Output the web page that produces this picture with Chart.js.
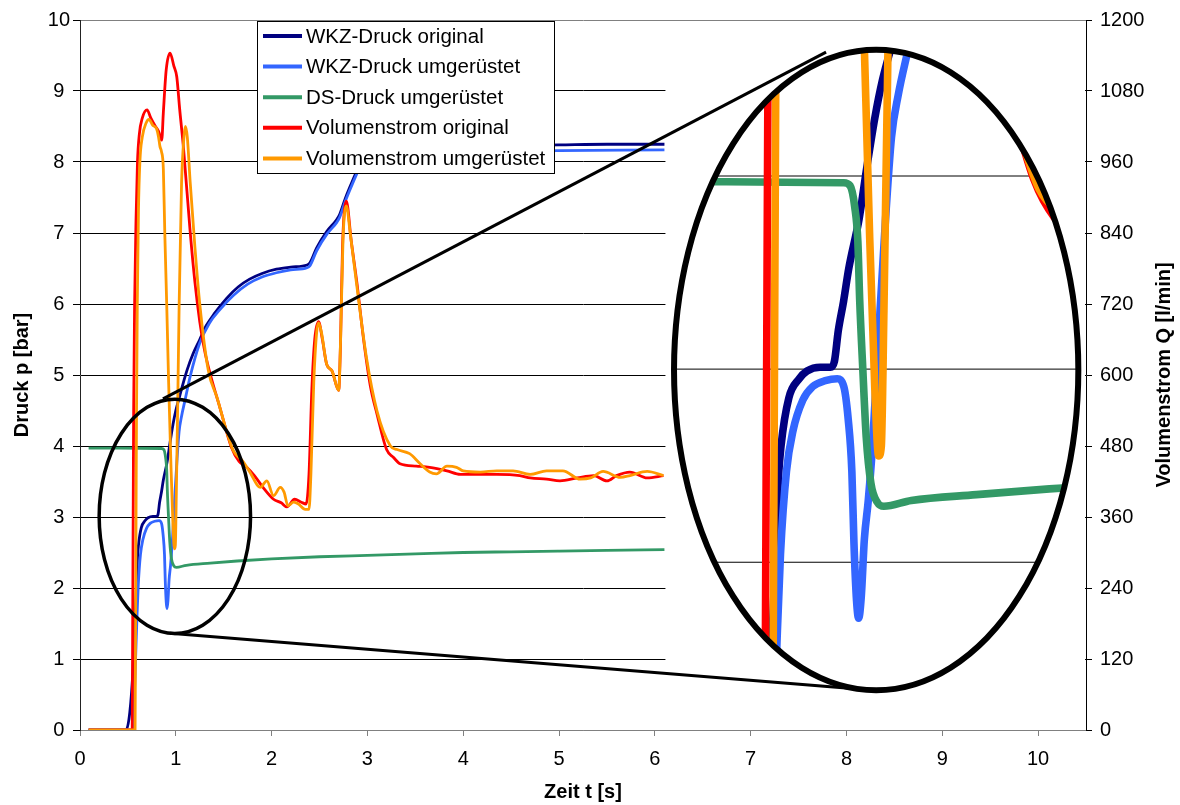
<!DOCTYPE html>
<html>
<head>
<meta charset="utf-8">
<script src="https://cdn.jsdelivr.net/npm/chart.js@4.4.1/dist/chart.umd.min.js"></script>
<style>
  html, body { margin: 0; padding: 0; background: #fff; }
  canvas { display: block; }
</style>
</head>
<body>
<canvas id="c" width="1180" height="805"></canvas>
<script>
// series names / colours (legend order)
const seriesNames = ["WKZ-Druck original", "WKZ-Druck umgerüstet", "DS-Druck umgerüstet", "Volumenstrom original", "Volumenstrom umgerüstet"];
const seriesColors = ["#000080", "#3366ff", "#339966", "#ff0000", "#ff9900"];

// time [s] and pressure [bar]
const navyT = [0.09,0.48,0.52,0.555,0.575,0.59,0.60,0.61,0.64,0.68,0.71,0.76,0.80,0.815,0.83,0.85,0.87,0.91,0.94,0.97,1.0,1.04,1.08,1.12,1.18,1.25,1.32,1.4,1.53,1.65,1.77,1.9,2.05,2.2,2.37,2.4,2.47,2.575,2.68,2.71,2.77,2.84,2.92,3.0,3.1,3.3,3.6,4.0,4.5,5.0,5.5,6.1];
const navyP = [0,0,0.25,0.9,1.6,2.05,2.43,2.6,2.85,2.95,2.99,3.01,3.01,3.04,3.2,3.35,3.52,3.78,4.05,4.3,4.5,4.7,4.9,5.08,5.3,5.5,5.7,5.86,6.08,6.24,6.35,6.43,6.49,6.52,6.55,6.58,6.79,7.02,7.19,7.26,7.49,7.72,7.96,8.1,8.16,8.2,8.21,8.22,8.23,8.24,8.25,8.25];

const blueT = [0.09,0.55,0.565,0.58,0.595,0.608,0.631,0.656,0.694,0.732,0.78,0.826,0.851,0.868,0.882,0.89,0.90,0.908,0.918,0.93,0.945,0.962,0.99,1.01,1.034,1.06,1.097,1.15,1.25,1.35,1.46,1.6,1.75,1.9,2.05,2.2,2.37,2.4,2.47,2.575,2.68,2.71,2.77,2.84,2.92,3.0,3.1,3.3,3.6,4.0,5.0,6.1];
const blueP = [0,0,0.4,1.0,1.6,2.04,2.47,2.68,2.84,2.91,2.94,2.95,2.91,2.74,2.47,2.1,1.8,1.71,1.82,2.12,2.32,2.62,3.3,3.75,4.2,4.42,4.65,4.98,5.45,5.73,5.92,6.12,6.28,6.38,6.44,6.48,6.51,6.54,6.75,6.98,7.15,7.22,7.45,7.68,7.92,8.05,8.1,8.13,8.14,8.15,8.16,8.17];

const greenT = [0.09,0.40,0.85,0.875,0.893,0.905,0.912,0.924,0.937,0.955,0.98,1.005,1.11,1.36,1.64,2.0,2.5,3.0,3.5,4.0,4.5,5.0,5.5,6.1];
const greenP = [3.97,3.97,3.965,3.95,3.84,3.66,3.36,3.0,2.65,2.41,2.31,2.29,2.32,2.35,2.38,2.41,2.44,2.46,2.48,2.50,2.51,2.52,2.53,2.54];

// time [s] and flow [l/min]
const redT = [0.09,0.545,0.55,0.555,0.56,0.57,0.585,0.60,0.62,0.65,0.70,0.74,0.78,0.82,0.853,0.87,0.90,0.94,0.98,1.01,1.04,1.08,1.15,1.20,1.25,1.30,1.36,1.46,1.58,1.66,1.74,1.82,1.91,2.02,2.10,2.16,2.24,2.31,2.36,2.39,2.42,2.45,2.49,2.53,2.575,2.63,2.70,2.72,2.74,2.78,2.83,2.89,2.96,3.03,3.10,3.20,3.27,3.34,3.51,3.65,3.83,3.97,4.18,4.35,4.59,4.70,4.87,5.01,5.19,5.36,5.50,5.60,5.74,5.92,6.09];
const redQ = [0,0,180,360,540,720,864,960,1008,1034,1048,1034,1022,1012,997,1044,1116,1144,1122,1104,1050,984,842,756,690,642,601,545,478,454,444,430,410,390,384,377,390,385,382,432,576,660,690,660,618,607,574,660,816,894,828,756,660,582,534,474,461,450,446,444,438,432,432,432,430,426,424,421,426,430,421,430,436,426,430];

const orangeT = [0.09,0.575,0.58,0.585,0.59,0.598,0.61,0.625,0.65,0.69,0.72,0.76,0.80,0.82,0.835,0.85,0.87,0.885,0.905,0.925,0.95,0.97,0.985,0.995,1.005,1.02,1.035,1.06,1.085,1.10,1.12,1.15,1.20,1.25,1.34,1.43,1.53,1.60,1.70,1.78,1.85,1.88,1.95,2.02,2.09,2.13,2.17,2.23,2.28,2.35,2.39,2.41,2.44,2.47,2.49,2.52,2.575,2.63,2.70,2.72,2.745,2.78,2.82,2.89,2.99,3.10,3.24,3.31,3.44,3.55,3.65,3.72,3.83,3.93,4.0,4.18,4.35,4.52,4.70,4.87,5.04,5.22,5.33,5.46,5.64,5.74,5.92,6.09];
const orangeQ = [0,0,180,360,540,720,876,960,1002,1026,1032,1022,1016,1002,986,978,948,840,720,588,444,348,306,312,396,552,720,924,1002,1020,1002,926,815,720,607,562,505,472,454,434,414,410,421,396,410,402,379,385,382,373,373,432,588,672,688,672,618,607,574,660,828,886,840,750,629,539,480,474,467,450,436,433,446,444,438,436,438,438,432,438,438,424,426,437,427,430,437,430];

// magnifier (in data units: t [s], p [bar])
const smallRing = { t: 0.99, p: 3.01, rt: 0.79, rp: 1.65 };
const bigRing = { t: 8.31, p: 5.07, rt: 2.11, rp: 4.51 };
const zoomView = { fromT: 0.99, fromP: 3.01, toT: 8.35, toP: 5.11, factor: 2.72 };
const guideLines = [[0.866, 4.664, 7.787, 9.548], [0.939, 1.362, 8.121, 0.576]];
const cutT = 6.1;

const FONT = "'Liberation Sans', Arial, sans-serif";

function pts(ts, vs) { return ts.map((t, i) => ({ x: t, y: vs[i] })); }

function ringPath(ctx, xs, ys, r) {
  const cx = xs.getPixelForValue(r.t), cy = ys.getPixelForValue(r.p);
  const rx = Math.abs(xs.getPixelForValue(r.t + r.rt) - cx);
  const ry = Math.abs(ys.getPixelForValue(r.p + r.rp) - cy);
  ctx.beginPath();
  ctx.ellipse(cx, cy, rx, ry, 0, 0, Math.PI * 2);
}

const magnifier = {
  id: "magnifier",
  afterDatasetsDraw(chart) {
    const { ctx, chartArea: a } = chart;
    const x = chart.scales.x, y = chart.scales.y;

    // blank right part of the plot
    const cx0 = x.getPixelForValue(cutT);
    ctx.save();
    ctx.fillStyle = "#fff";
    ctx.fillRect(cx0 + 1, a.top + 1, a.right - cx0 - 2, a.bottom - a.top - 2);
    ctx.restore();

    // small ring + guide lines
    ctx.save();
    ctx.strokeStyle = "#000";
    ctx.lineWidth = 3.5;
    ringPath(ctx, x, y, smallRing);
    ctx.stroke();
    ctx.lineWidth = 3;
    guideLines.forEach(g => {
      ctx.beginPath();
      ctx.moveTo(x.getPixelForValue(g[0]), y.getPixelForValue(g[1]));
      ctx.lineTo(x.getPixelForValue(g[2]), y.getPixelForValue(g[3]));
      ctx.stroke();
    });
    ctx.restore();

    // magnified view
    const k = zoomView.factor;
    ctx.save();
    ringPath(ctx, x, y, bigRing);
    ctx.clip();
    ctx.fillStyle = "#fff";
    ctx.fillRect(0, 0, chart.width, chart.height);
    ctx.translate(x.getPixelForValue(zoomView.toT), y.getPixelForValue(zoomView.toP));
    ctx.scale(k, k);
    ctx.translate(-x.getPixelForValue(zoomView.fromT), -y.getPixelForValue(zoomView.fromP));
    ctx.strokeStyle = "#000";
    ctx.lineWidth = 1 / k;
    y.ticks.forEach(tk => {
      const py = y.getPixelForValue(tk.value);
      ctx.beginPath();
      ctx.moveTo(a.left, py);
      ctx.lineTo(a.right, py);
      ctx.stroke();
    });
    chart.getSortedVisibleDatasetMetas().slice().reverse().forEach(m => m.controller.draw());
    ctx.restore();

    ctx.save();
    ctx.strokeStyle = "#000";
    ctx.lineWidth = 6;
    ringPath(ctx, x, y, bigRing);
    ctx.stroke();
    ctx.restore();
  },
  afterDraw(chart) {
    const ctx = chart.ctx;
    // legend box
    ctx.save();
    ctx.fillStyle = "#fff";
    ctx.fillRect(257.5, 21.5, 297, 152);
    ctx.strokeStyle = "#000";
    ctx.lineWidth = 1;
    ctx.strokeRect(257.5, 21.5, 297, 152);
    ctx.font = "20.5px " + FONT;
    ctx.textBaseline = "middle";
    seriesNames.forEach((name, i) => {
      const yy = 36 + i * 30.6;
      ctx.strokeStyle = seriesColors[i];
      ctx.lineWidth = 4;
      ctx.beginPath();
      ctx.moveTo(263, yy);
      ctx.lineTo(302, yy);
      ctx.stroke();
      ctx.fillStyle = "#000";
      ctx.fillText(name, 306, yy + 1);
    });
    // right axis title, reading upwards
    const a = chart.chartArea;
    ctx.translate(1164, (a.top + a.bottom) / 2);
    ctx.rotate(-Math.PI / 2);
    ctx.font = "bold 20px " + FONT;
    ctx.textAlign = "center";
    ctx.fillText("Volumenstrom Q [l/min]", 0, 0);
    ctx.restore();
  }
};

const tickFont = { family: FONT, size: 20 };
const titleFont = { family: FONT, size: 20, weight: "bold" };

new Chart(document.getElementById("c"), {
  type: "line",
  data: {
    datasets: [
      { label: seriesNames[0], data: pts(navyT, navyP), borderColor: seriesColors[0], yAxisID: "y", order: 4 },
      { label: seriesNames[1], data: pts(blueT, blueP), borderColor: seriesColors[1], yAxisID: "y", order: 3 },
      { label: seriesNames[2], data: pts(greenT, greenP), borderColor: seriesColors[2], yAxisID: "y", order: 2 },
      { label: seriesNames[3], data: pts(redT, redQ), borderColor: seriesColors[3], yAxisID: "y2", order: 1 },
      { label: seriesNames[4], data: pts(orangeT, orangeQ), borderColor: seriesColors[4], yAxisID: "y2", order: 0 }
    ]
  },
  options: {
    responsive: false,
    animation: false,
    devicePixelRatio: 1,
    layout: { padding: { top: 18, left: 0, right: 0, bottom: 0 } },
    elements: {
      point: { radius: 0 },
      line: { borderWidth: 2.8, cubicInterpolationMode: "monotone", fill: false }
    },
    plugins: { legend: { display: false }, tooltip: { enabled: false } },
    scales: {
      x: {
        type: "linear", min: 0, max: 10.5,
        ticks: { stepSize: 1, includeBounds: false, autoSkip: false, maxRotation: 0, font: tickFont, color: "#000", padding: 11 },
        grid: { drawOnChartArea: false, drawTicks: true, tickLength: 6, tickColor: "#808080" },
        border: { color: "#808080" },
        title: { display: true, text: "Zeit t [s]", font: titleFont, color: "#000", padding: { top: 0, bottom: 1 } },
        afterFit: s => { s.height = 75; }
      },
      y: {
        position: "left", min: 0, max: 10,
        ticks: { stepSize: 1, font: tickFont, color: "#000", padding: 3, crossAlign: "center" },
        grid: {
          color: c => (c.tick && (c.tick.value === 10 || c.tick.value === 0)) ? "#808080" : "#000",
          lineWidth: 1, tickLength: 7, tickColor: "#000"
        },
        border: { color: "#222" },
        title: { display: true, text: "Druck p [bar]", font: titleFont, color: "#000", padding: { top: 10, bottom: 0 } },
        afterFit: s => { s.width = 80; }
      },
      y2: {
        position: "right", min: 0, max: 1200,
        ticks: { stepSize: 120, font: tickFont, color: "#000", padding: 8, callback: v => String(v) },
        grid: { drawOnChartArea: false, tickLength: 6, tickColor: "#000" },
        border: { color: "#000" },
        afterFit: s => { s.width = 94; }
      }
    }
  },
  plugins: [magnifier]
});
</script>
</body>
</html>
